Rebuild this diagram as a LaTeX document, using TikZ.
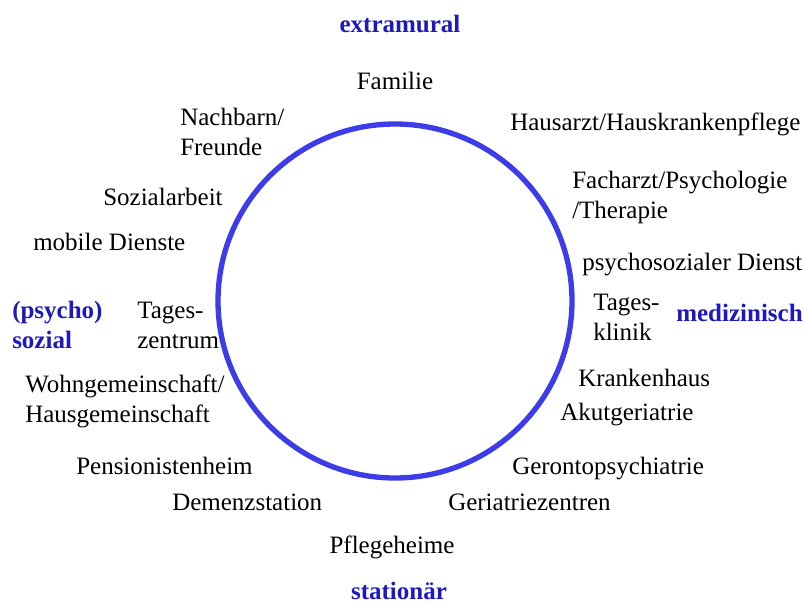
\documentclass[tikz,border=0pt]{standalone}
\usepackage{fontspec}
\setmainfont{Liberation Serif}
\definecolor{labelblue}{RGB}{30,25,190}
\definecolor{ringblue}{RGB}{60,60,232}
\tikzset{
  txt/.style={font=\fontsize{18.75}{22.5}\selectfont, inner sep=0pt, text=black},
  lbl/.style={font=\fontsize{18.75}{22.5}\selectfont\bfseries, inner sep=0pt, text=labelblue},
  ring/.style={circle, draw=ringblue, line width=4pt, minimum size=265.5pt, inner sep=0pt}
}
\begin{document}
\begin{tikzpicture}[x=0.75pt,y=-0.75pt]
\useasboundingbox (0,0) rectangle (803,603);
\node[ring] (circ) at (395,301) {};
\node[lbl, anchor=base] (extra) at (400,32) {extramural};
\node[lbl, anchor=base] (stat) at (399,599) {stationär};
\node[lbl, anchor=base west] (med) at (676,321) {medizinisch};
\node[lbl, anchor=west, align=left] (psy) at (12,325) {(psycho)\\sozial};
\node[txt, anchor=base] (fam) at (395,89) {Familie};
\node[txt, anchor=base west] (haus) at (510,130) {Hausarzt/Hauskrankenpflege};
\node[txt, anchor=west, align=left] (nach) at (180,132) {Nachbarn/\\Freunde};
\node[txt, anchor=west, align=left] (fach) at (572,197) {Facharzt/Psychologie\\/Therapie};
\node[txt, anchor=base west] (soz) at (103,205) {Sozialarbeit};
\node[txt, anchor=base west] (mob) at (33,250) {mobile Dienste};
\node[txt, anchor=base west] (psd) at (582,270) {psychosozialer Dienst};
\node[txt, anchor=west, align=left] (tz) at (137,325) {Tages-\\zentrum};
\node[txt, anchor=west, align=left] (tk) at (593,317) {Tages-\\klinik};
\node[txt, anchor=west, align=left] (wg) at (25,401) {Wohngemeinschaft/\\Hausgemeinschaft};
\node[txt, anchor=base west] (kh) at (578,386) {Krankenhaus};
\node[txt, anchor=base west] (akut) at (560,420) {Akutgeriatrie};
\node[txt, anchor=base west] (pens) at (76,474) {Pensionistenheim};
\node[txt, anchor=base west] (geronto) at (512,474) {Gerontopsychiatrie};
\node[txt, anchor=base west] (dem) at (172,510) {Demenzstation};
\node[txt, anchor=base west] (geri) at (448,510) {Geriatriezentren};
\node[txt, anchor=base] (pfl) at (392,553) {Pflegeheime};
\end{tikzpicture}
\end{document}
